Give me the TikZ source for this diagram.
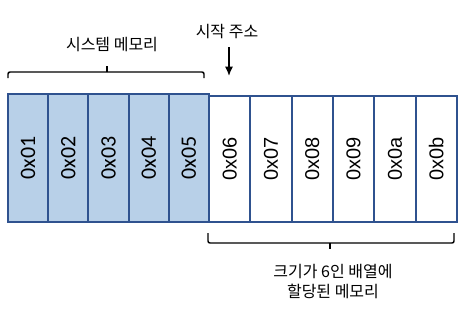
\documentclass[tikz,border=0pt]{standalone}
\usepackage{fontspec}
\setmainfont{Liberation Sans}
\newfontfamily\krfont{Noto Sans CJK KR}
\newfontfamily\calfont{Carlito}
\usetikzlibrary{positioning,arrows.meta}
\definecolor{cellblue}{RGB}{47,82,143}
\definecolor{sysfill}{RGB}{184,208,232}

\begin{document}
\begin{tikzpicture}[
  x=0.75pt, y=-0.75pt,
  cell/.style    = {draw=cellblue, line width=1.5pt, inner sep=0pt,
                    anchor=north west, minimum width=31pt, minimum height=94.5pt,
                    font=\fontsize{15}{15}\selectfont},
  syscell/.style = {cell, fill=sysfill, minimum width=30.15pt, minimum height=96pt,
                    font=\calfont\fontsize{16.5}{16.5}\selectfont},
  bracket/.style = {line width=1.1pt, rounded corners=1.5pt},
  lbl/.style     = {font=\krfont\fontsize{12}{15}\selectfont, align=center, inner sep=0pt}
]
\useasboundingbox (0,0) rectangle (469,312);

% ---- array cells ----
\foreach \i/\t in {6/06,7/07,8/08,9/09,10/0a,11/0b}
  \node[cell] (c\i) at ({208+(\i-6)*41.3},95) {\rotatebox{90}{0x\t}};
\foreach \i in {1,...,5}
  \node[syscell] (c\i) at ({7+(\i-1)*40.2},93) {\rotatebox{90}{0x0\i}};

% ---- system memory bracket ----
\coordinate (tl) at (8,78);
\coordinate (tr) at (204,78);
\coordinate (tm) at (107,72);
\draw[bracket] (tl) -- (8,72) -- (204,72) -- (tr);
\draw[bracket] (tm) -- (107,66);
\node[lbl] (syslbl) at (112,45) {시스템 메모리};

% ---- start address ----
\node[lbl] (start) at (227,32) {시작 주소};
\coordinate (tip) at (229,76);
\draw[line width=1.1pt, -{Latex[length=7pt,width=6pt]}] (229,47) -- (tip);

% ---- array bracket ----
\coordinate (bl) at (208,233);
\coordinate (br) at (454,233);
\coordinate (bm) at (330,243);
\draw[bracket] (bl) -- (208,243) -- (454,243) -- (br);
\draw[bracket] (bm) -- (330,249);
\node[lbl] (arrlbl) at (333,282) {크기가 6인 배열에\\할당된 메모리};

\end{tikzpicture}
\end{document}
